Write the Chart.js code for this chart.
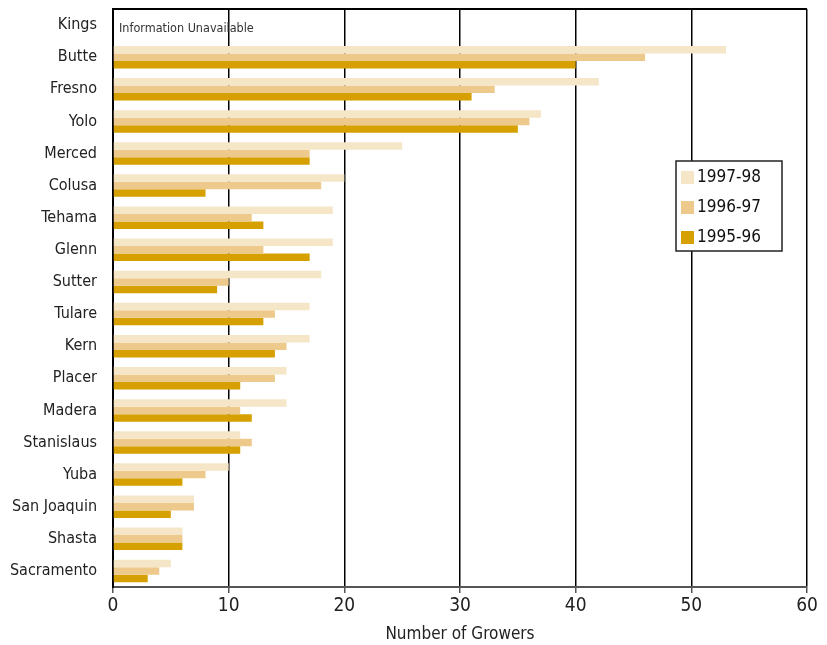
<!DOCTYPE html>
<html>
<head>
<meta charset="utf-8">
<script src="https://cdn.jsdelivr.net/npm/chart.js@4.4.0/dist/chart.umd.min.js"></script>
<style>
html,body{margin:0;padding:0;background:#fff;}
#wrap{width:827px;height:645px;}
</style>
</head>
<body>
<div id="wrap"><canvas id="c" width="827" height="645"></canvas></div>
<script>
const counties = ["Kings","Butte","Fresno","Yolo","Merced","Colusa","Tehama","Glenn","Sutter","Tulare","Kern","Placer","Madera","Stanislaus","Yuba","San Joaquin","Shasta","Sacramento"];
const s9798 = [null,53,42,37,25,20,19,19,18,17,17,15,15,11,10,7,6,5];
const s9697 = [null,46,33,36,17,18,12,13,10,14,15,14,11,12,8,7,6,4];
const s9596 = [null,40,31,35,17,8,13,17,9,13,14,11,12,11,6,5,6,3];
const seriesLabels = ["1997-98","1996-97","1995-96"];
const xTicks = [0,10,20,30,40,50,60];
const note = "Information Unavailable";

const colors = ["#F6E6C8","#EDCA8B","#D5A000"];
const FONT = "'Liberation Sans Narrow','DejaVu Sans Condensed','Roboto Condensed',sans-serif";

const extras = {
  id: 'extras',
  afterDraw(chart) {
    const ctx = chart.ctx, a = chart.chartArea;
    ctx.save();
    ctx.strokeStyle = '#000';
    ctx.lineWidth = 2;
    ctx.beginPath();
    ctx.moveTo(a.left, a.top);
    ctx.lineTo(a.right, a.top);
    ctx.stroke();
    const y = chart.scales.y.getPixelForValue(0);
    ctx.fillStyle = '#333';
    ctx.font = "12.5px " + FONT;
    ctx.textBaseline = 'middle';
    ctx.textAlign = 'left';
    ctx.fillText(note, a.left + 6, y + 4);
    const lx = 676, ly = 161, lw = 106, lh = 90;
    ctx.fillStyle = '#fff';
    ctx.fillRect(lx, ly, lw, lh);
    ctx.strokeStyle = '#222';
    ctx.lineWidth = 1.5;
    ctx.strokeRect(lx, ly, lw, lh);
    ctx.font = "17px " + FONT;
    seriesLabels.forEach((lab, i) => {
      const cy = ly + 16 + i * 30;
      ctx.fillStyle = colors[i];
      ctx.fillRect(lx + 5, cy - 6, 13, 13);
      ctx.fillStyle = '#111';
      ctx.fillText(lab, lx + 21, cy + 1);
    });
    ctx.restore();
  }
};

new Chart(document.getElementById('c'), {
  type: 'bar',
  data: {
    labels: counties,
    datasets: [
      {label: seriesLabels[0], data: s9798, backgroundColor: colors[0]},
      {label: seriesLabels[1], data: s9697, backgroundColor: colors[1]},
      {label: seriesLabels[2], data: s9596, backgroundColor: colors[2]}
    ]
  },
  options: {
    indexAxis: 'y',
    responsive: false,
    animation: false,
    devicePixelRatio: 1,
    layout: {padding: {left: 0, right: 20, top: 9, bottom: 0}},
    datasets: {bar: {categoryPercentage: 0.7, barPercentage: 1.0, borderWidth: 0}},
    plugins: {legend: {display: false}, tooltip: {enabled: false}},
    scales: {
      x: {
        min: 0, max: 60,
        afterBuildTicks(scale) { scale.ticks = xTicks.map(v => ({value: v})); },
        grid: {color: '#000', lineWidth: 1.5, drawTicks: true, tickLength: 6, tickColor: '#555'},
        border: {display: true, color: '#555', width: 2},
        ticks: {color: '#222', font: {family: FONT, size: 19}, padding: 2},
        title: {display: true, text: 'Number of Growers', color: '#222', font: {family: FONT, size: 17}, padding: {top: 5, bottom: 0}},
        afterFit(scale) { scale.height = 58; }
      },
      y: {
        grid: {display: false, drawTicks: false},
        border: {display: true, color: '#000', width: 2},
        ticks: {color: '#222', font: {family: FONT, size: 16}, padding: 16, autoSkip: false},
        afterFit(scale) { scale.width = 113; scale.paddingTop = 0; scale.paddingBottom = 0; }
      }
    }
  },
  plugins: [extras]
});
</script>
</body>
</html>
